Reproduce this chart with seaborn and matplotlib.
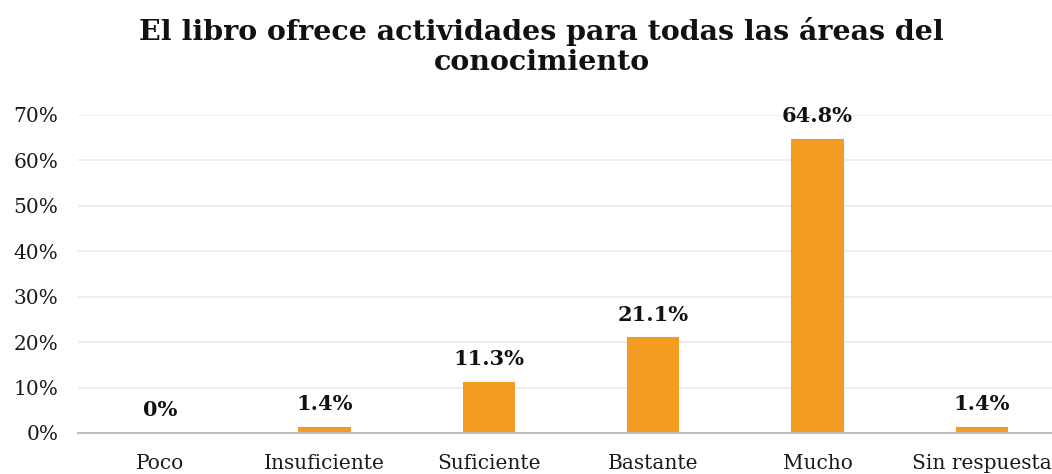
import matplotlib
matplotlib.use("Agg")
import matplotlib.pyplot as plt
import seaborn as sns
import pandas as pd
from matplotlib.ticker import FuncFormatter

categories = ["Poco", "Insuficiente", "Suficiente", "Bastante", "Mucho", "Sin respuesta"]
values = [0, 1.4, 11.3, 21.1, 64.8, 1.4]
yticks = [0, 10, 20, 30, 40, 50, 60, 70]
title = "El libro ofrece actividades para todas las áreas del\nconocimiento"

sns.set_theme(style="white")
plt.rcParams['font.family'] = ['DejaVu Serif']

df = pd.DataFrame({"cat": categories, "val": values})

fig = plt.figure(figsize=(10.52, 4.74), dpi=100)
ax = fig.add_axes([78/1052, 41/474, 986/1052, 318/474])
sns.barplot(data=df, x="cat", y="val", color="#F49B22", saturation=1, width=0.32,
            linewidth=0, ax=ax, zorder=3)

ax.set_ylim(0, 70)
ax.set_xlim(-0.5, len(categories) - 0.5)
ax.set_yticks(yticks)
ax.yaxis.set_major_formatter(FuncFormatter(lambda v, p: f"{v:.0f}%"))
ax.grid(axis="y", color="#EBEBEB", linewidth=1.2, zorder=0)
ax.grid(axis="x", visible=False)
for s in ["top", "right", "left"]:
    ax.spines[s].set_visible(False)
ax.spines["bottom"].set_color("#BFBFBF")
ax.spines["bottom"].set_linewidth(1.5)
ax.spines["bottom"].set_zorder(4)
ax.set_xlabel("")
ax.set_ylabel("")
ax.tick_params(axis="both", length=0, labelsize=14.5, colors="#1a1a1a")
ax.tick_params(axis="y", pad=14)
ax.tick_params(axis="x", pad=15)

for i, v in enumerate(values):
    ax.annotate(f"{v:g}%", (i, v), xytext=(0, 9), textcoords="offset points",
                ha="center", va="bottom", fontsize=15, fontweight="bold", color="#111111",
                annotation_clip=False)

fig.text(0.515, 0.965, title, ha="center", va="top", fontsize=20.5, fontweight="bold",
         color="#111111", linespacing=1.15)

fig.savefig("out.png", dpi=100)
